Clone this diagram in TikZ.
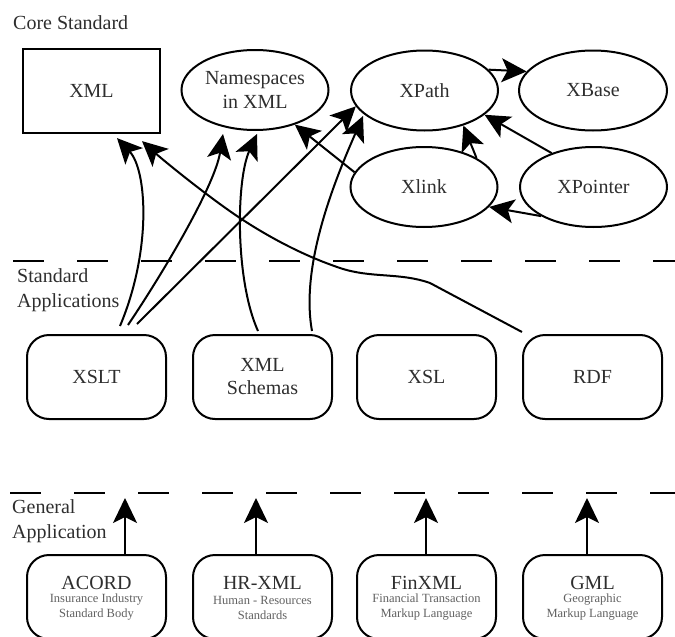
\documentclass[tikz,border=0pt]{standalone}
\usepackage{fontspec}
\setmainfont{Liberation Serif}
\usetikzlibrary{arrows.meta,shapes.geometric}

\begin{document}
\begin{tikzpicture}[x=1pt,y=-1pt,
  lbl/.style={font=\fontsize{20}{24}\selectfont, text=black!82, inner sep=0pt},
  sublbl/.style={font=\fontsize{12.5}{15}\selectfont, text=black!62, inner sep=0pt, align=center},
  corebox/.style={draw, line width=2.2pt, minimum width=137pt, minimum height=84pt, inner sep=0pt,
    font=\fontsize{20}{24}\selectfont, text=black!82},
  ell/.style={ellipse, draw, line width=2pt, minimum width=147pt, minimum height=80pt,
    inner xsep=-4pt, inner ysep=0pt, align=center, font=\fontsize{20}{24}\selectfont, text=black!82},
  appbox/.style={draw, line width=2pt, rounded corners=22pt, minimum width=139pt, minimum height=84pt,
    inner sep=0pt, align=center, font=\fontsize{20}{23}\selectfont, text=black!82},
  layer/.style={line width=2.5pt, dash pattern=on 31pt off 33pt},
  arr/.style={line width=2pt, -{Stealth[length=25pt, width=24pt, inset=6pt]}}
]
\useasboundingbox (0,0) rectangle (675,637);

% layer separators
\draw[layer] (13,261) -- (675,261);
\draw[layer] (10,493) -- (675,493);

% layer captions
\node[lbl, anchor=base west] (coreLbl) at (13,29) {Core Standard};
\node[lbl, anchor=base west] (stdLblA) at (17,282) {Standard};
\node[lbl, anchor=base west] (stdLblB) at (17,307) {Applications};
\node[lbl, anchor=base west] (genLblA) at (12,513) {General};
\node[lbl, anchor=base west] (genLblB) at (12,538) {Application};

% core standards
\node[corebox] (xml) at (91.5,91) {XML};
\node[ell] (ns) at (255,90) {Namespaces\\[-0.5pt]in XML};
\node[ell] (xpath) at (424.5,90.5) {XPath};
\node[ell, minimum width=148pt] (xbase) at (593,90.5) {XBase};
\node[ell] (xlink) at (424,187) {Xlink};
\node[ell] (xpointer) at (593.5,187) {XPointer};

% standard applications
\node[appbox] (xslt) at (96.5,377) {XSLT};
\node[appbox] (schemas) at (262.5,377) {XML\\Schemas};
\node[appbox] (xsl) at (426.5,377) {XSL};
\node[appbox] (rdf) at (592.5,377) {RDF};

% general applications
\node[appbox] (acord) at (96.5,597) {};
\node[appbox] (hrxml) at (262.5,597) {};
\node[appbox] (finxml) at (426.5,597) {};
\node[appbox] (gml) at (592.5,597) {};

\node[lbl] (acordT) at (96.5,583) {ACORD};
\node[sublbl] (acordS) at (96.5,607.5) {Insurance Industry\\Standard Body};
\node[lbl] (hrxmlT) at (262.5,583) {HR-XML};
\node[sublbl] (hrxmlS) at (262.5,607.5) {Human - Resources\\Standards};
\node[lbl] (finxmlT) at (426.5,583) {FinXML};
\node[sublbl] (finxmlS) at (426.5,607.5) {Financial Transaction\\Markup Language};
\node[lbl] (gmlT) at (592.5,583) {GML};
\node[sublbl] (gmlS) at (592.5,607.5) {Geographic\\Markup Language};

% links among the core standards
\draw[arr] (xpath.18) -- (xbase.164);
\draw[arr] (xlink.29) -- (xpath.-42);
\draw[arr] (xpointer.141) -- (xpath.-22);
\draw[arr] (xpointer.209) -- (xlink.-17);
\draw[arr] (xlink.168) -- (ns.-41);

% XSLT dependencies
\draw[arr] ([xshift=23.5pt,yshift=8pt]xslt.north) .. controls (152,250) and (147,170) ..
  ([xshift=25.5pt,yshift=-4pt]xml.south);
\draw[arr] ([xshift=31.5pt,yshift=9pt]xslt.north) .. controls (165,270) and (215,185) ..
  ([xshift=-32pt,yshift=-3pt]ns.south);
\draw[arr] ([xshift=40.5pt,yshift=10pt]xslt.north) -- (xpath.193);

% XML Schemas dependencies
\draw[arr] ([xshift=-4.5pt,yshift=3pt]schemas.north) .. controls (235,280) and (236,180) ..
  ([xshift=2pt,yshift=-3pt]ns.south);
\draw[arr] ([xshift=49.5pt,yshift=3pt]schemas.north) .. controls (300,265) and (335,180) ..
  ([xshift=-61.5pt,yshift=15.5pt]xpath.south);

% RDF dependency
\draw[arr] ([yshift=2pt]rdf.north west) -- (430,283)
  .. controls (399.5,272.2) and (371.2,278.5) .. (340,268)
  .. controls (308.8,257.5) and (275.8,241.3) .. (243,220)
  .. controls (210.2,198.7) and (163,160) .. ([xshift=50.5pt,yshift=-7pt]xml.south);

% general applications build on the standard ones
\coordinate (acordTip) at (125,498);
\coordinate (hrxmlTip) at (256,498);
\coordinate (finxmlTip) at (426,498);
\coordinate (gmlTip) at (587,498);
\draw[arr] (acordTip |- acord.north) -- (acordTip);
\draw[arr] (hrxmlTip |- hrxml.north) -- (hrxmlTip);
\draw[arr] (finxmlTip |- finxml.north) -- (finxmlTip);
\draw[arr] (gmlTip |- gml.north) -- (gmlTip);
\end{tikzpicture}
\end{document}
